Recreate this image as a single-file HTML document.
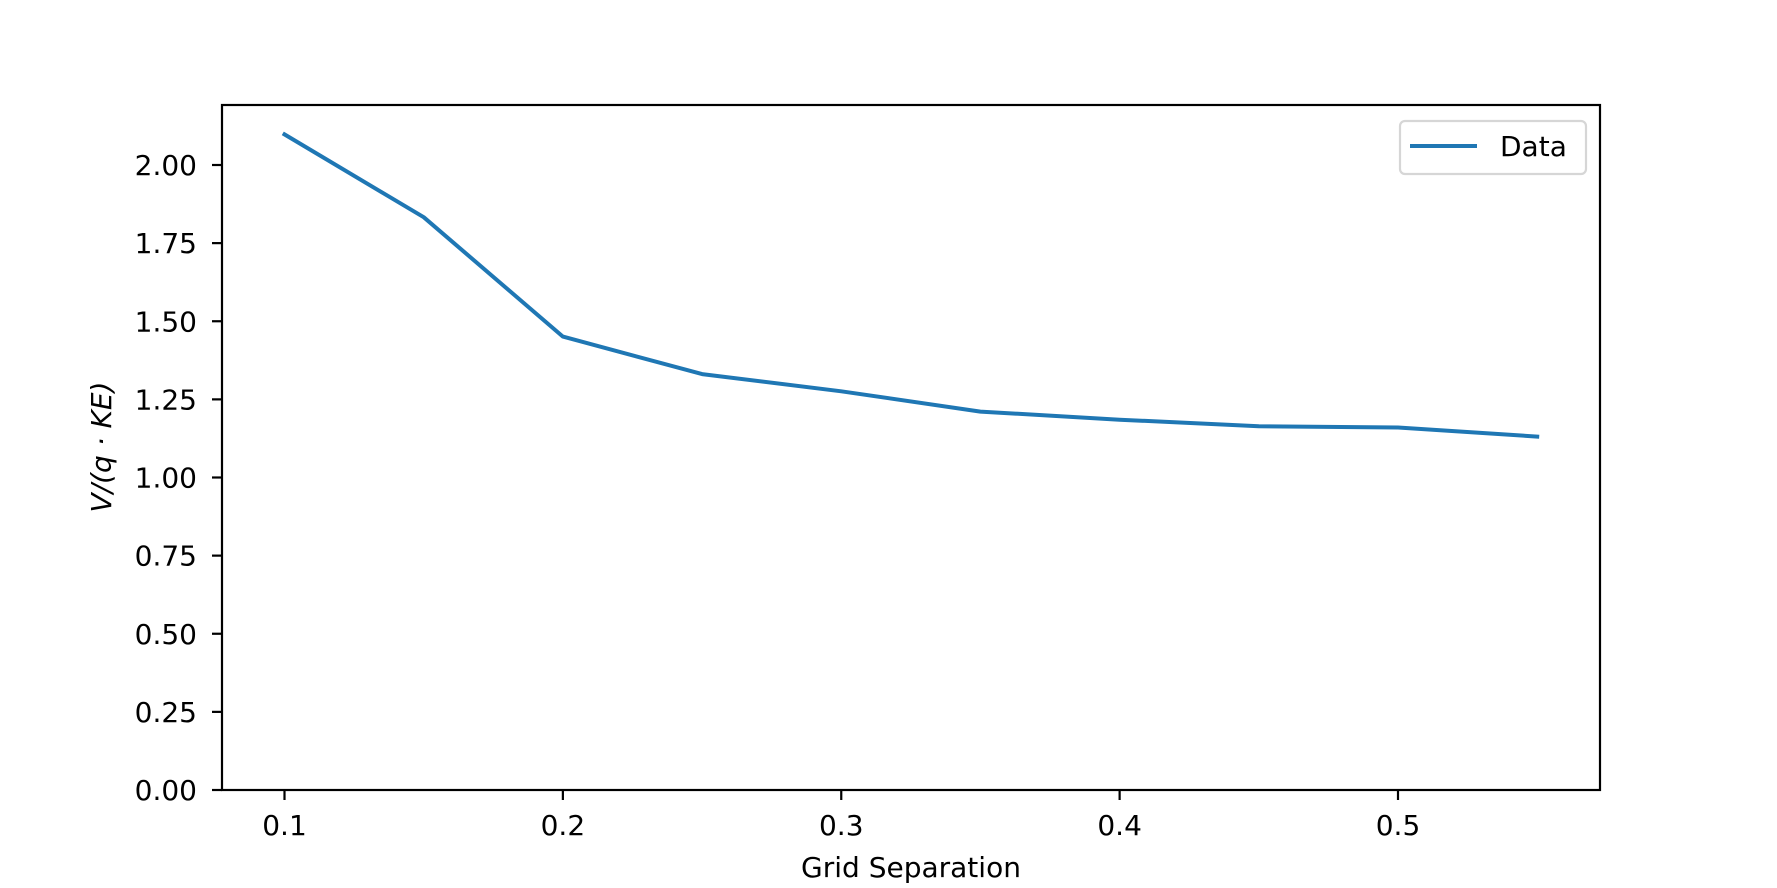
<!DOCTYPE html>
<html><head><meta charset="utf-8"><style>
html,body{margin:0;padding:0;background:#fff;}
svg{display:block;font-family:"DejaVu Sans","Liberation Sans",sans-serif;}
</style></head><body>
<svg id="chart" width="1777" height="888">
<rect x="0" y="0" width="1777" height="888" fill="#fff"/>
<g id="plot"></g>
</svg>
<script>
const xValues=[0.1,0.15,0.2,0.25,0.3,0.35,0.4,0.45,0.5,0.55];
const yValues=[2.098,1.833,1.451,1.331,1.276,1.211,1.185,1.164,1.160,1.131];
const xTicks=[0.1,0.2,0.3,0.4,0.5];
const xTickLabels=["0.1","0.2","0.3","0.4","0.5"];
const yTicks=[0,0.25,0.5,0.75,1.0,1.25,1.5,1.75,2.0];
const yTickLabels=["0.00","0.25","0.50","0.75","1.00","1.25","1.50","1.75","2.00"];
const L=222,R=1600,T=105,B=790;
function sx(v){return 284.5+(v-0.1)*2783.75;}
function sy(v){return 790-v*312.5;}
const NS="http://www.w3.org/2000/svg";
const g=document.getElementById('plot');
function mk(tag,attrs,parent){const e=document.createElementNS(NS,tag);for(const k in attrs)e.setAttribute(k,attrs[k]);(parent||g).appendChild(e);return e;}
let d=xValues.map((x,i)=>(i?'L':'M')+sx(x).toFixed(1)+','+sy(yValues[i]).toFixed(1)).join(' ');
const line=mk('path',{d:d,fill:'none',stroke:'#1f77b4','stroke-width':4,'stroke-linejoin':'round','stroke-linecap':'square'});


const frame=mk('rect',{x:L,y:T,width:R-L,height:B-T,fill:'none',stroke:'#000','stroke-width':2.2});


xTicks.forEach((v,i)=>{
  const x=sx(v);
  const t=mk('line',{x1:x,x2:x,y1:B,y2:B+10,stroke:'#000','stroke-width':2.2});
  
  
  const tx=mk('text',{x:x,y:835,'text-anchor':'middle','font-size':28});
  tx.textContent=xTickLabels[i];
  
  
});
yTicks.forEach((v,i)=>{
  const y=sy(v);
  const t=mk('line',{x1:L-10,x2:L,y1:y,y2:y,stroke:'#000','stroke-width':2.2});
  
  
  const tx=mk('text',{x:197,y:y+10,'text-anchor':'end','font-size':28});
  tx.textContent=yTickLabels[i];
  
  
});
const xl=mk('text',{x:911,y:877,'text-anchor':'middle','font-size':28});
xl.textContent='Grid Separation';


const yl=mk('text',{x:0,y:0,'text-anchor':'middle','font-size':28,'font-style':'italic',transform:'translate(111,447) rotate(-90)'});
yl.textContent='V/(q · KE)';


const lg=mk('g',{});


mk('rect',{x:1400,y:121,width:186,height:53,rx:5,fill:'#fff',stroke:'#d6d6d6','stroke-width':2.2},lg);
const ll=mk('line',{x1:1410,x2:1477,y1:146,y2:146,stroke:'#1f77b4','stroke-width':4},lg);


const lt=mk('text',{x:1500,y:156,'font-size':28},lg);
lt.textContent='Data';


</script>
</body></html>
